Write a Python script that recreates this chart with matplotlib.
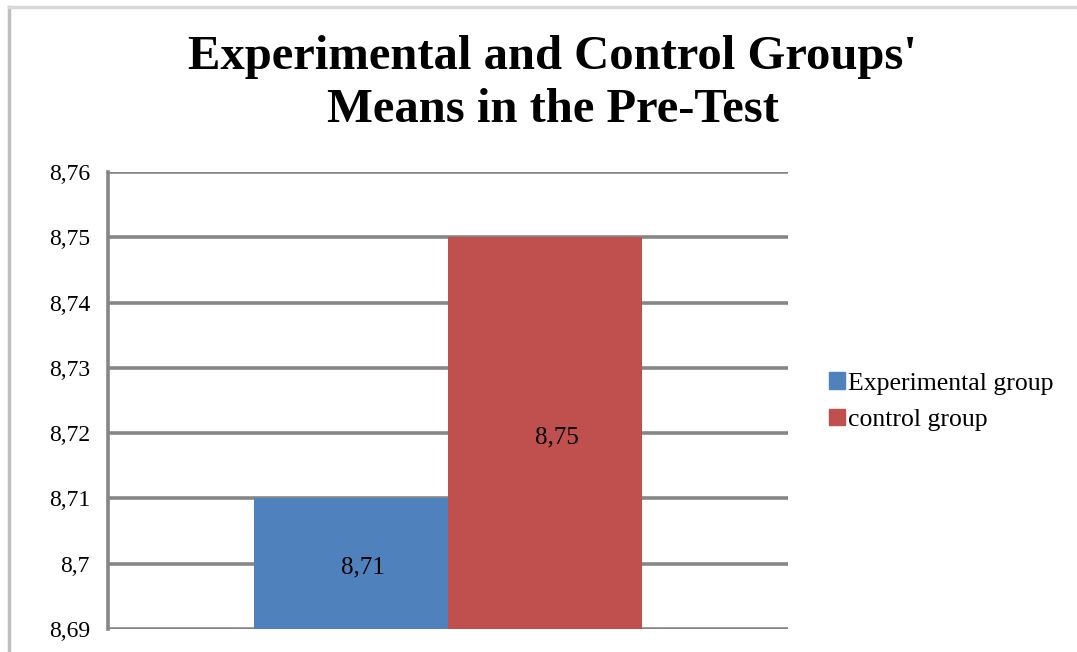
import matplotlib
matplotlib.use('Agg')
import matplotlib.pyplot as plt
from matplotlib.ticker import FuncFormatter
from matplotlib.patches import Rectangle
from matplotlib.lines import Line2D

# dados
series = ['Experimental group', 'control group']
values = [8.71, 8.75]
colors = ['#4F81BD', '#C0504D']
yticks = [8.69, 8.70, 8.71, 8.72, 8.73, 8.74, 8.75, 8.76]

plt.rcParams['font.family'] = ['Liberation Serif', 'DejaVu Serif']

def virgula(v, pos=None):
    s = ('%.2f' % v).rstrip('0').rstrip('.')
    return s.replace('.', ',')

fig = plt.figure(figsize=(10.77, 6.52), dpi=100)
ax = fig.add_axes([0.1003, 0.0353, 0.6314, 0.7009])

w = 0.285
grid_c = '#868686'
for i, (nome, v, c) in enumerate(zip(series, values, colors)):
    x = -w / 2 if i == 0 else w / 2
    ax.bar(x, v - yticks[0], bottom=yticks[0], width=w, color=c, label=nome, zorder=3)
    # rotulo no meio da barra (um pouco para a direita, como no Excel)
    ax.annotate(virgula(v), (x, (v + yticks[0]) / 2), xytext=(12, -4),
                textcoords='offset pixels', ha='center', va='center',
                fontsize=18, zorder=4)

ax.set_xlim(-0.5, 0.5)
ax.set_ylim(yticks[0], yticks[-1])
ax.set_yticks(yticks)
ax.yaxis.set_major_formatter(FuncFormatter(virgula))
ax.set_xticks([])
ax.tick_params(axis='y', length=0, pad=13, labelsize=17)
ax.grid(axis='y', color=grid_c, linewidth=2.6, zorder=1)
for s in ['top', 'right', 'bottom']:
    ax.spines[s].set_visible(False)
ax.spines['left'].set_color(grid_c)
ax.spines['left'].set_linewidth(2.6)
ax.spines['left'].set_zorder(5)

# titulo
fig.text(0.513, 0.946, "Experimental and Control Groups'\nMeans in the Pre-Test",
         ha='center', va='top', fontsize=35, fontweight='bold', linespacing=1.27)

# legenda
handles = [Rectangle((0, 0), 1, 1, color=c) for c in colors]
fig.legend(handles, series, loc='center left', bbox_to_anchor=(0.770, 0.384),
           frameon=False, fontsize=18.5, handlelength=0.6, handleheight=0.6,
           handletextpad=0.12, borderpad=0, borderaxespad=0, labelspacing=0.55)

# moldura
fig.add_artist(Line2D([0.0085, 0.0085], [0, 0.99], transform=fig.transFigure,
                      color='#BFBFBF', linewidth=2.5))
fig.add_artist(Line2D([0.0085, 1], [0.99, 0.99], transform=fig.transFigure,
                      color='#D9D9D9', linewidth=2.5))

plt.savefig('out.png', dpi=100)
